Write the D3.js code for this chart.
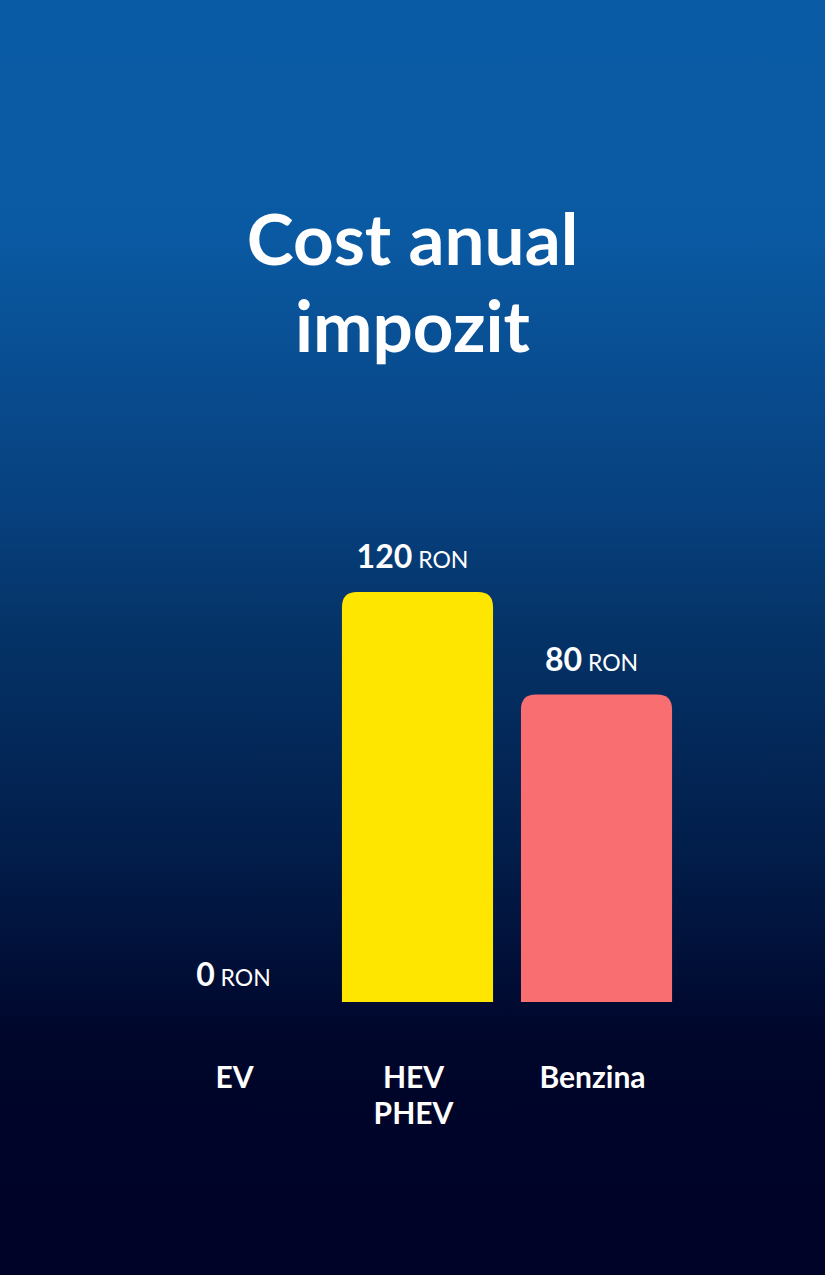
<!DOCTYPE html>
<html>
<head>
<meta charset="utf-8">
<script src="https://cdn.jsdelivr.net/npm/d3@7"></script>
<style>
  html, body { margin: 0; padding: 0; background: #000328; }
  svg { display: block; }
</style>
</head>
<body>
<div id="chart"></div>
<script>
// chart data
const categories = [["EV"], ["HEV", "PHEV"], ["Benzina"]];
const values = [0, 120, 80];
const barColors = ["#FFE600", "#FFE600", "#F96E70"];
const unit = "RON";
const titleLines = ["Cost anual", "impozit"];

const wid = 825;
const hei = 1275;
const font = "Lato, 'Source Sans Pro', sans-serif";

const svg = d3.select("#chart").append("svg")
  .attr("width", wid)
  .attr("height", hei);

// background gradient
const grad = svg.append("defs").append("linearGradient")
  .attr("id", "bg")
  .attr("x1", 0).attr("y1", 0).attr("x2", 0).attr("y2", 1);
[[0, "#0A5BA5"], [0.18, "#0A5AA3"], [0.4, "#07407E"], [0.48, "#05356A"],
 [0.67, "#021D4A"], [0.82, "#00052A"], [1, "#000328"]]
  .forEach(([o, c]) => grad.append("stop").attr("offset", o).attr("stop-color", c));
svg.append("rect").attr("width", wid).attr("height", hei).attr("fill", "url(#bg)");

// title
svg.append("g").selectAll("text")
  .data(titleLines)
  .enter().append("text")
  .attr("x", wid / 2)
  .attr("y", (d, i) => 265 + i * 87)
  .attr("text-anchor", "middle")
  .attr("fill", "#fff")
  .style("font-family", font)
  .style("font-weight", 700)
  .style("font-size", "71px")
  .text(d => d);

// scales
const baseY = 1002;
const xScale = d3.scaleBand()
  .domain(d3.range(categories.length))
  .range([135, 700])
  .paddingInner(0.156)
  .paddingOuter(0.156);

const yScale = d3.scaleLinear()
  .domain([-40, 120])
  .range([baseY, 592]);

const r = 15;
const barPath = i => {
  const x0 = xScale(i), x1 = x0 + xScale.bandwidth(), y0 = yScale(values[i]);
  return `M${x0},${baseY}V${y0 + r}Q${x0},${y0} ${x0 + r},${y0}H${x1 - r}Q${x1},${y0} ${x1},${y0 + r}V${baseY}Z`;
};

// bars (zero values have no bar)
svg.append("g").selectAll("path")
  .data(d3.range(values.length).filter(i => values[i] > 0))
  .enter().append("path")
  .attr("d", barPath)
  .attr("fill", i => barColors[i]);

// value labels
const labels = svg.append("g").selectAll("text")
  .data(values)
  .enter().append("text")
  .attr("x", (d, i) => xScale(i) + xScale.bandwidth() / 2 - 5)
  .attr("y", d => (d > 0 ? yScale(d) - 24 : baseY - 16))
  .attr("text-anchor", "middle")
  .attr("fill", "#fff")
  .style("font-family", font);
labels.append("tspan")
  .style("font-weight", 700)
  .style("font-size", "32px")
  .text(d => d);
labels.append("tspan")
  .style("font-size", "23px")
  .text(" " + unit);

// category labels
const cats = svg.append("g").selectAll("text")
  .data(categories)
  .enter().append("text")
  .attr("text-anchor", "middle")
  .attr("fill", "#fff")
  .style("font-family", font)
  .style("font-weight", 700)
  .style("font-size", "30px");
cats.selectAll("tspan")
  .data((d, i) => d.map(t => ({ t, i })))
  .enter().append("tspan")
  .attr("x", d => xScale(d.i) + xScale.bandwidth() / 2 - 4)
  .attr("y", (d, j) => 1088 + j * 36)
  .text(d => d.t);
</script>
</body>
</html>
